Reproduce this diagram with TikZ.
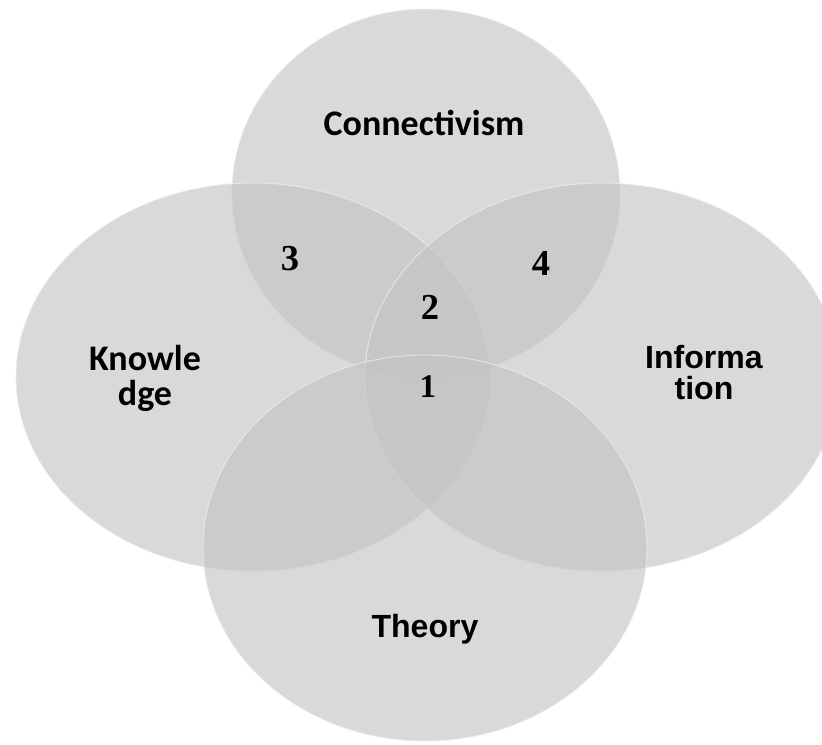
\documentclass[tikz,border=0pt]{standalone}
\usepackage{fontspec}
\usepackage{tikz}
\usetikzlibrary{positioning}
\setmainfont{Liberation Serif}
\newfontfamily\labelfont{Carlito}
\newfontfamily\headfont{Liberation Sans}
\definecolor{setfill}{HTML}{C3C3C3}
\definecolor{setedge}{HTML}{EDEDED}

\begin{document}
\begin{tikzpicture}[
  x=0.025cm, y=-0.025cm,
  set/.style={
    fill=setfill, fill opacity=0.63,
    draw=setedge, draw opacity=0.8, line width=0.6pt
  },
  cname/.style={
    font=\labelfont\bfseries\fontsize{25.6}{25}\selectfont,
    align=center, inner sep=0pt
  },
  hname/.style={
    font=\headfont\bfseries\fontsize{22.8}{22}\selectfont,
    align=center, inner sep=0pt
  },
  zone/.style={font=\bfseries\fontsize{26}{28}\selectfont, inner sep=0pt}
]
\clip (0,0) rectangle (822,744);

% the four sets
\path[set] (426,193) ellipse [x radius=194, y radius=184];
\path[set] (253,377) ellipse [x radius=237, y radius=194];
\path[set] (602,377) ellipse [x radius=237, y radius=194];
\path[set] (425,548) ellipse [x radius=222, y radius=193];

% set names
\node[cname, anchor=base] (connect) at (424,135) {Connectivism};
\node[cname] (knowledge) at (145,378) {Knowle\\dge};
\node[hname] (information) at (704,373) {Informa\\tion};
\node[hname, anchor=base] (theory) at (425,637) {Theory};

% overlap numbers
\node[zone] (one) at (428,387) {\fontsize{23.5}{26}\selectfont 1};
\node[zone] (two) at (430,307) {2};
\node[zone] (three) at (290,259) {3};
\node[zone] (four) at (541,263) {4};
\end{tikzpicture}
\end{document}
